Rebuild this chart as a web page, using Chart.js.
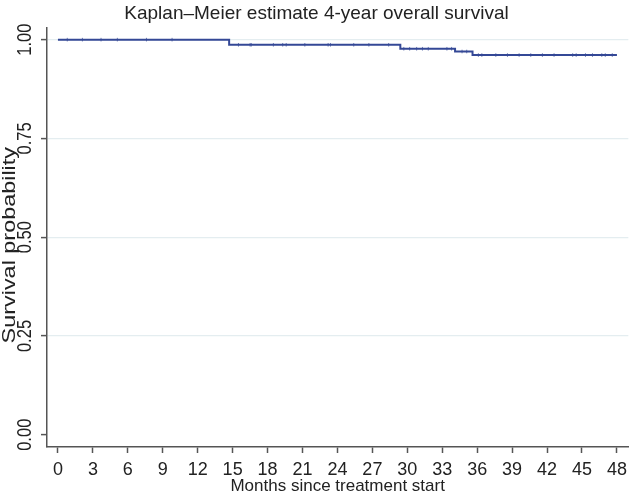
<!DOCTYPE html>
<html>
<head>
<meta charset="utf-8">
<script src="https://cdn.jsdelivr.net/npm/chart.js@4"></script>
<style>
  html, body { margin: 0; padding: 0; background: #fff; }
  #wrap { width: 633px; height: 495px; }
</style>
</head>
<body>
<div id="wrap"><canvas id="kmChart"></canvas></div>
<script>
// step points: time at which survival drops, and the new level
const dropMonths = [0, 14.7, 29.4, 34.1, 35.6, 48];
const survival = [1.0, 0.987, 0.977, 0.970, 0.961, 0.961];

// censored observations (small marks on the curve)
const censorMonths = [
  0.8, 2.1, 3.7, 5.1, 7.6, 9.8,
  15.5, 16.5, 16.6, 18.5, 19.3, 19.6, 21.2, 23.2, 23.4, 25.4, 26.7, 28.4,
  29.7, 30.2, 30.8, 31.3, 31.8, 33.4, 33.8,
  34.7, 35.1,
  36.1, 36.4, 37.6, 38.6, 39.6, 40.6, 41.6, 42.6, 44.2, 44.5, 45.3, 45.9, 46.7, 47.0, 47.6
];

const xTicks = [0, 3, 6, 9, 12, 15, 18, 21, 24, 27, 30, 33, 36, 39, 42, 45, 48];
const yTicks = [0, 0.25, 0.5, 0.75, 1];
const yTitle = 'Survival probability';

const FONT = "'Liberation Sans', Arial, sans-serif";
const LINE = 'rgb(52, 72, 150)';
const AXIS = '#555';
const TEXT = '#222';

function survivalAt(t) {
    let s = survival[0];
    for (let i = 0; i < dropMonths.length; i++) {
        if (dropMonths[i] <= t) s = survival[i];
    }
    return s;
}

const curve = dropMonths.map((m, i) => ({ x: m, y: survival[i] }));
const censored = censorMonths.map(m => ({ x: m, y: survivalAt(m) }));

// vertical y labels (the original reads bottom-to-top, centred on the tick)
const verticalYLabels = {
    id: 'verticalYLabels',
    afterDraw(chart) {
        const c = chart.ctx;
        const ys = chart.scales.y;
        c.save();
        c.fillStyle = TEXT;
        c.textAlign = 'center';
        c.textBaseline = 'middle';
        c.font = '18px ' + FONT;
        yTicks.forEach(v => {
            const py = ys.getPixelForValue(v);
            c.save();
            c.translate(26, py);
            c.rotate(-Math.PI / 2);
            c.scale(0.92, 1.1);
            c.fillText(v.toFixed(2), 0, 0);
            c.restore();
        });
        const mid = (ys.getPixelForValue(0) + ys.getPixelForValue(1)) / 2;
        c.translate(10, mid + 8);
        c.rotate(-Math.PI / 2);
        c.scale(1.3, 1);
        c.fillText(yTitle, 0, 0);
        c.restore();
    }
};

const ctx = document.getElementById('kmChart').getContext('2d');

new Chart(ctx, {
    type: 'scatter',
    data: {
        datasets: [
            {
                label: 'KM',
                data: curve,
                showLine: true,
                stepped: 'before',
                borderColor: LINE,
                borderWidth: 2,
                pointRadius: 0,
                fill: false
            },
            {
                label: 'censored',
                data: censored,
                showLine: false,
                pointStyle: 'line',
                rotation: 90,
                pointRadius: 1.8,
                borderColor: 'rgba(52, 72, 150, 0.7)',
                borderWidth: 1,
                pointHoverRadius: 0
            }
        ]
    },
    options: {
        responsive: true,
        maintainAspectRatio: false,
        animation: false,
        layout: { padding: 0 },
        plugins: {
            legend: { display: false },
            tooltip: { enabled: false },
            title: {
                display: true,
                text: 'Kaplan\u2013Meier estimate 4-year overall survival',
                color: TEXT,
                font: { family: FONT, size: 19, weight: 'normal' },
                padding: { top: 2, bottom: 3 }
            }
        },
        scales: {
            x: {
                type: 'linear',
                min: -0.94,
                max: 48.98,
                afterBuildTicks: scale => { scale.ticks = xTicks.map(v => ({ value: v })); },
                afterFit: scale => { scale.height = 48; },
                ticks: {
                    autoSkip: false,
                    maxRotation: 0,
                    color: TEXT,
                    padding: 6,
                    font: { family: FONT, size: 18 }
                },
                grid: {
                    drawOnChartArea: false,
                    tickLength: 6,
                    tickColor: AXIS,
                    tickWidth: 1.5
                },
                border: { color: AXIS, width: 1.5 },
                title: {
                    display: true,
                    text: 'Months since treatment start',
                    color: TEXT,
                    font: { family: FONT, size: 17 },
                    padding: { top: 0, bottom: -2 }
                }
            },
            y: {
                type: 'linear',
                min: -0.031,
                max: 1.03,
                afterBuildTicks: scale => { scale.ticks = yTicks.map(v => ({ value: v })); },
                afterFit: scale => { scale.width = 47; },
                ticks: { display: false },
                grid: {
                    color: c => (c.tick && c.tick.value === 0) ? 'rgba(0,0,0,0)' : 'rgb(228, 237, 240)',
                    lineWidth: 1.2,
                    tickLength: 6,
                    tickColor: AXIS,
                    tickWidth: 1.5
                },
                border: { color: AXIS, width: 1.5 },
                title: { display: false }
            }
        }
    },
    plugins: [verticalYLabels]
});
</script>
</body>
</html>
